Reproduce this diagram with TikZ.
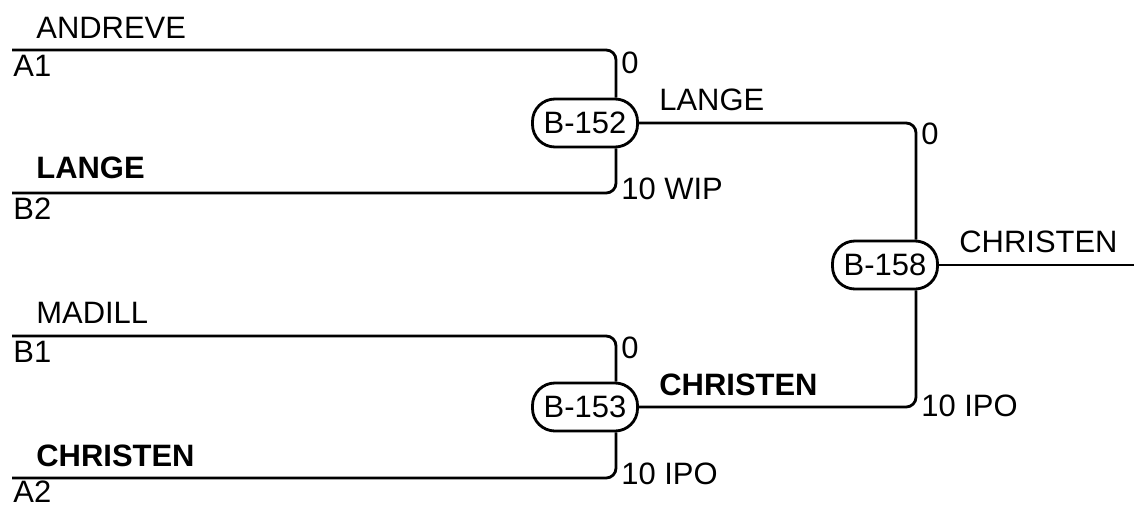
\documentclass[tikz,border=0pt]{standalone}
\usepackage{fontspec}
\setmainfont{Liberation Sans}

\begin{document}
\begin{tikzpicture}[x=0.025cm, y=-0.025cm, line width=2pt, font=\fontsize{22}{26}\selectfont,
	bout/.style={draw, rectangle, rounded corners=16pt, minimum width=2.625cm, minimum height=1.2cm, inner sep=0pt},
	player/.style={anchor=base west, inner sep=0pt},
	score/.style={anchor=west, inner sep=0pt},
	link/.style={rounded corners=7pt}]
	\useasboundingbox (0,0) rectangle (1134,508);

	\node[bout] (B152) at (585,123) {B-152};
	\node[bout] (B153) at (585,407) {B-153};
	\node[bout] (B158) at (885,265) {B-158};

	\coordinate (LA1) at (12,50);
	\coordinate (LB2) at (12,193);
	\coordinate (LB1) at (12,336);
	\coordinate (LA2) at (12,478);
	\coordinate (Win) at (1134,265);
	\coordinate (J1) at (616,0);
	\coordinate (J2) at (916,0);

	\draw[link] (LA1) -| (B152.north -| J1);
	\draw[link] (LB2) -| (B152.south -| J1);
	\draw[link] (LB1) -| (B153.north -| J1);
	\draw[link] (LA2) -| (B153.south -| J1);
	\draw[link] (B152.east) -| (B158.north -| J2);
	\draw[link] (B153.east) -| (B158.south -| J2);
	\draw (B158.east) -- (Win);

	\node[player] (andreve) at (35,38) {ANDREVE};
	\node[player] (seedA1) at (12,76) {A1};
	\node[player] (lange) at (35,178) {\textbf{LANGE}};
	\node[player] (seedB2) at (12,219) {B2};
	\node[player] (madill) at (35,323) {MADILL};
	\node[player] (seedB1) at (12,362) {B1};
	\node[player] (christen) at (35,466) {\textbf{CHRISTEN}};
	\node[player] (seedA2) at (12,502) {A2};

	\node[player] (w152) at (658,110) {LANGE};
	\node[player] (w153) at (658,395) {\textbf{CHRISTEN}};
	\node[player] (w158) at (958,252) {CHRISTEN};

	\node[score] (s1) at (620,63) {0};
	\node[score] (s2) at (620,189) {10 WIP};
	\node[score] (s3) at (620,348) {0};
	\node[score] (s4) at (620,474) {10 IPO};
	\node[score] (s5) at (920,134) {0};
	\node[score] (s6) at (920,406) {10 IPO};

\end{tikzpicture}
\end{document}
